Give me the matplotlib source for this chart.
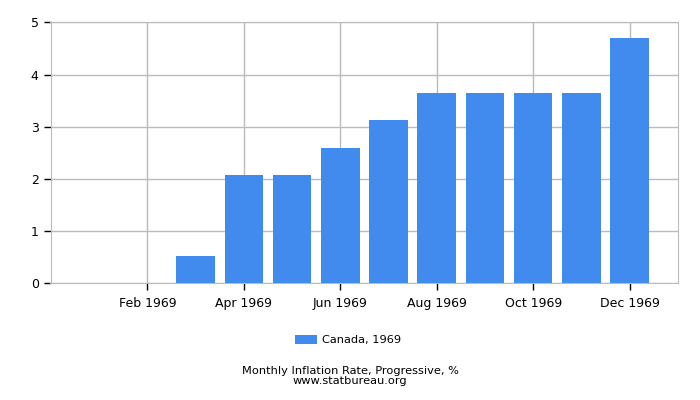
import matplotlib

matplotlib.use("Agg")
import matplotlib.pyplot as plt

months = ["Jan 1969", "Feb 1969", "Mar 1969", "Apr 1969", "May 1969", "Jun 1969",
          "Jul 1969", "Aug 1969", "Sep 1969", "Oct 1969", "Nov 1969", "Dec 1969"]
values = [0.0, 0.0, 0.52, 2.08, 2.08, 2.60, 3.13, 3.65, 3.65, 3.65, 3.65, 4.69]
series_label = "Canada, 1969"
title = "Monthly Inflation Rate, Progressive, %"
source = "www.statbureau.org"

BAR_COLOR = "#418bef"
GRID_COLOR = "#bbbbbb"

fig = plt.figure(figsize=(7, 4), dpi=100)
ax = fig.add_axes([50.5 / 700, 1 - 283.3 / 400, (678.3 - 50.5) / 700, (283.3 - 22.3) / 400])

x = list(range(len(months)))
ax.bar(x, values, width=0.8, color=BAR_COLOR, label=series_label, zorder=2)

ax.set_xlim(-1.01, 12.01)
ax.set_ylim(0, 5)
ax.set_yticks(range(6))
ax.set_xticks(x[1::2])
ax.set_xticklabels(months[1::2])
ax.grid(True, color=GRID_COLOR, linewidth=1, zorder=0)
ax.set_axisbelow(True)
for side in ax.spines.values():
    side.set_color(GRID_COLOR)
ax.tick_params(axis="both", colors="black", labelsize=9, length=5, width=1)
ax.tick_params(axis="x", pad=5)

fig.legend(loc="center", bbox_to_anchor=(348 / 700, 1 - 340 / 400), frameon=False,
           fontsize=8.2, handlelength=1.9, handleheight=0.8, handletextpad=0.4)
fig.text(0.5, 1 - 370.5 / 400, title, ha="center", va="center", fontsize=8.2)
fig.text(0.5, 1 - 381.5 / 400, source, ha="center", va="center", fontsize=8.2)

fig.savefig("out.png", dpi=100)
